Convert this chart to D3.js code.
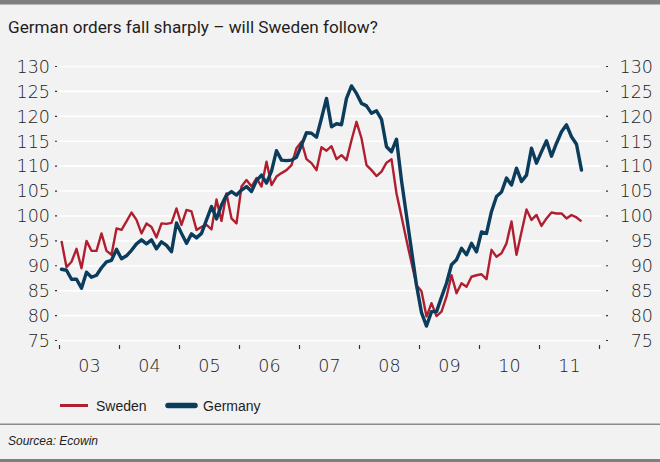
<!DOCTYPE html>
<html>
<head>
<meta charset="utf-8">
<script src="https://cdn.jsdelivr.net/npm/d3@7"></script>
<style>
  html, body { margin: 0; padding: 0; background: #f2f2f2; }
  svg { display: block; }
</style>
</head>
<body>
<svg id="chart" width="660" height="462"></svg>
<script>
// ---- Data (monthly, Jan 2003 – Sep 2011) ----
const startYear = 2003;
const yearLabels = ["03", "04", "05", "06", "07", "08", "09", "10", "11"];
const yTicks = [75, 80, 85, 90, 95, 100, 105, 110, 115, 120, 125, 130];

const sweden = [
  94.9, 89.6, 90.7, 93.3, 89.4, 94.9, 92.9, 92.9, 96.4, 92.9, 92.1, 97.4,
  97.1, 98.8, 100.6, 99.1, 96.4, 98.4, 97.7, 95.6, 98.4, 98.3, 98.5, 101.4,
  98.1, 101.1, 100.8, 97.1, 97.7, 98.1, 97.2, 103.2, 98.9, 104.4, 99.4, 98.4,
  105.8, 107.1, 105.8, 107.5, 105.8, 110.8, 106.1, 107.8, 108.5, 109.1, 110.1, 113.5,
  114.8, 111.3, 110.5, 109.1, 113.7, 113.0, 113.9, 111.3, 112.1, 111.1, 115.1, 118.8,
  115.5, 110.1, 109.1, 107.9, 108.8, 110.6, 111.3, 104.4, 99.8, 95.0, 90.5, 86.0,
  84.8, 79.7, 82.4, 79.8, 80.7, 83.7, 88.0, 84.4, 86.4, 85.7, 87.7, 88.0,
  88.2, 87.2, 93.1, 91.7, 92.4, 94.4, 98.8, 92.1, 96.7, 101.2, 99.1, 100.1,
  97.9, 99.4, 100.6, 100.4, 100.4, 99.4, 100.1, 99.6, 98.8
];

const germany = [
  89.2, 89.0, 87.2, 87.2, 85.4, 88.6, 87.6, 88.0, 89.5, 90.7, 91.0, 93.2,
  91.3, 91.9, 93.0, 94.3, 95.1, 94.3, 95.1, 93.3, 94.7, 94.0, 92.7, 98.5,
  96.4, 94.4, 96.3, 95.5, 96.4, 99.1, 101.8, 99.3, 102.1, 104.1, 104.8, 104.1,
  105.1, 105.8, 104.8, 107.0, 108.1, 106.5, 108.9, 113.0, 111.1, 111.0, 111.1, 111.7,
  114.1, 116.6, 116.5, 115.7, 119.5, 123.5, 117.8, 118.4, 118.2, 123.5, 126.0, 124.5,
  122.5, 122.0, 120.5, 121.0, 119.3, 113.8, 112.8, 115.3, 107.0, 100.0, 93.0, 86.0,
  80.5, 77.8, 80.7, 80.7, 83.6, 86.4, 90.1, 91.1, 93.4, 92.1, 94.4, 92.7,
  96.7, 96.4, 100.8, 103.8, 104.7, 107.5, 106.1, 109.5, 106.8, 108.1, 113.5, 110.5,
  112.8, 115.0, 111.9, 114.5, 116.8, 118.2, 115.8, 114.3, 109.1
];

const seriesNames = ["Sweden", "Germany"];
const seriesColors = ["#b01f2f", "#0c3c5c"];

// ---- Layout ----
const W = 660, H = 462;
const svg = d3.select("#chart");

svg.append("rect").attr("x", 0).attr("y", 0).attr("width", W).attr("height", H).attr("fill", "#f2f2f2");
svg.append("rect").attr("x", 0).attr("y", 0).attr("width", W).attr("height", 4.5).attr("fill", "#7f7f7f");
svg.append("rect").attr("x", 0).attr("y", 459).attr("width", W).attr("height", 3).attr("fill", "#7f7f7f");
svg.append("rect").attr("x", 0).attr("y", 423.5).attr("width", W).attr("height", 1.5).attr("fill", "#8a8a8a");

// Title
const title = svg.append("text")
  .attr("x", 8).attr("y", 33)
  .attr("font-family", "Roboto, 'DejaVu Sans', sans-serif")
  .attr("font-size", 17)
  .attr("fill", "#1e1e1e")
  .text("German orders fall sharply – will Sweden follow?");
{
  const len = title.node().getComputedTextLength();
  title.attr("font-size", 17 * 370 / len);
}

// Scales
const nMonths = yearLabels.length * 12;
const x = d3.scaleLinear().domain([0, nMonths]).range([59, 599]);
const y = d3.scaleLinear().domain([75, 130]).range([340, 66]);

const tickFont = "'DejaVu Sans', sans-serif";
const tickColor = "#1c1c1c";

// Gridlines
const grid = svg.append("g").attr("transform", `translate(${x(0)},0)`)
  .call(d3.axisLeft(y).tickValues(yTicks).tickSize(-(x(nMonths) - x(0) + 2)).tickFormat(""));
grid.select(".domain").remove();
grid.selectAll(".tick line").attr("stroke", "#ffffff").attr("stroke-width", 1.6);

// Left axis
const yl = svg.append("g").attr("transform", "translate(57,0)")
  .call(d3.axisLeft(y).tickValues(yTicks).tickSize(2).tickPadding(5));
yl.select(".domain").remove();
yl.selectAll(".tick line").attr("stroke", "#333").attr("stroke-width", 1.2);
yl.selectAll(".tick text").attr("font-family", tickFont).attr("font-size", 17.5)
  .attr("font-weight", 200).attr("fill", tickColor).attr("dy", "0.36em");

// Right axis
const yr = svg.append("g").attr("transform", "translate(606,0)")
  .call(d3.axisRight(y).tickValues(yTicks).tickSize(2).tickPadding(5));
yr.select(".domain").remove();
yr.selectAll(".tick line").attr("stroke", "#333").attr("stroke-width", 1.2);
yr.selectAll(".tick text").attr("font-family", tickFont).attr("font-size", 17.5)
  .attr("font-weight", 200).attr("fill", tickColor).attr("text-anchor", "end").attr("x", 47).attr("dy", "0.36em");

// X axis tick marks (year boundaries)
const yearBounds = d3.range(0, nMonths + 1, 12);
const xt = svg.append("g").attr("transform", "translate(0,345)")
  .call(d3.axisBottom(x).tickValues(yearBounds).tickSize(4).tickFormat(""));
xt.select(".domain").remove();
xt.selectAll(".tick line").attr("stroke", "#333").attr("stroke-width", 1.2);

// X axis labels (mid-year)
const xl = svg.append("g").attr("transform", "translate(0,356)")
  .call(d3.axisBottom(x).tickValues(yearLabels.map((d, i) => i * 12 + 6)).tickSize(0).tickPadding(0)
    .tickFormat((d, i) => yearLabels[i]));
xl.select(".domain").remove();
xl.selectAll(".tick text").attr("font-family", tickFont).attr("font-size", 17.5)
  .attr("font-weight", 200).attr("fill", tickColor).attr("dy", "0.9em");

// Lines
const line = d3.line().x((d, i) => x(i + 0.5)).y(d => y(d)).curve(d3.curveLinear);

svg.append("path").datum(sweden)
  .attr("d", line).attr("fill", "none")
  .attr("stroke", seriesColors[0]).attr("stroke-width", 2.4).attr("stroke-linejoin", "round");

svg.append("path").datum(germany)
  .attr("d", line).attr("fill", "none")
  .attr("stroke", seriesColors[1]).attr("stroke-width", 3.4).attr("stroke-linejoin", "round")
  .attr("stroke-linecap", "round");

// Legend
const legendX = [60, 168];
const legendW = [28, 27];
const legendSW = [3, 5.5];
seriesNames.forEach((name, i) => {
  svg.append("line")
    .attr("x1", legendX[i]).attr("x2", legendX[i] + legendW[i])
    .attr("y1", 405.5).attr("y2", 405.5)
    .attr("stroke", seriesColors[i]).attr("stroke-width", legendSW[i])
    .attr("stroke-linecap", i === 1 ? "round" : "butt");
  svg.append("text")
    .attr("x", legendX[i] + legendW[i] + 8).attr("y", 410.5)
    .attr("font-family", "'Liberation Sans', Arial, sans-serif")
    .attr("font-size", 14).attr("fill", "#1e1e1e")
    .text(name);
});

// Source
svg.append("text")
  .attr("x", 8).attr("y", 445)
  .attr("font-family", "'Liberation Sans', Arial, sans-serif")
  .attr("font-size", 12).attr("font-style", "italic").attr("fill", "#222")
  .text("Sourcea: Ecowin");
</script>
</body>
</html>
